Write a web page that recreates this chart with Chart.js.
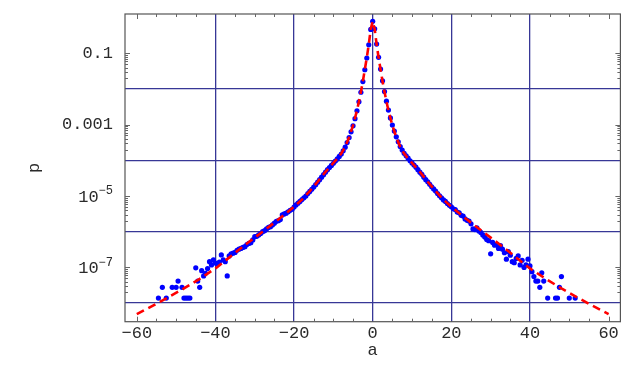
<!DOCTYPE html>
<html lang="en">
<head>
  <meta charset="UTF-8">
  <title>p(a)</title>
  <style>
    body { margin: 0; background: #fff; }
  </style>
</head>
<body>

<canvas id="myChart" width="623" height="385"></canvas>

<script src="https://cdn.jsdelivr.net/npm/chart.js"></script>

<script>
  // measured points (blue dots)
  const dataA = [
    -54.5, -53.5, -52.5, -51, -50, -49.5, -48.5, -48, -47.5, -47, -46.5, -45, -44.5, -44,
    -43.5, -43, -42.5, -42, -41.5, -41, -40.5, -40, -39.5, -39, -38.5, -38, -37.5, -37,
    -36.5, -36, -35.5, -35, -34.5, -34, -33.5, -33, -32.5, -32, -31.5, -31, -30.5, -30,
    -29.5, -29, -28.5, -28, -27.5, -27, -26.5, -26, -25.5, -25, -24.5, -24, -23.5, -23,
    -22.5, -22, -21.5, -21, -20.5, -20, -19.5, -19, -18.5, -18, -17.5, -17, -16.5, -16,
    -15.5, -15, -14.5, -14, -13.5, -13, -12.5, -12, -11.5, -11, -10.5, -10, -9.5, -9,
    -8.5, -8, -7.5, -7, -6.5, -6, -5.5, -5, -4.5, -4, -3.5, -3, -2.5, -2, -1.5, -1, -0.5,
    0,
    0.5, 1, 1.5, 2, 2.5, 3, 3.5, 4, 4.5, 5, 5.5, 6, 6.5, 7, 7.5, 8, 8.5, 9, 9.5, 10,
    10.5, 11, 11.5, 12, 12.5, 13, 13.5, 14, 14.5, 15, 15.5, 16, 16.5, 17, 17.5, 18, 18.5,
    19, 19.5, 20, 20.5, 21, 21.5, 22, 22.5, 23, 23.5, 24, 24.5, 25, 25.5, 26, 26.5, 27,
    27.5, 28, 28.5, 29, 29.5, 30, 30.5, 31, 31.5, 32, 32.5, 33, 33.5, 34, 34.5, 35, 35.5,
    36, 36.5, 37, 37.5, 38, 38.5, 39, 39.5, 40, 40.5, 41, 41.5, 42, 42.5, 43, 43.5, 44.5,
    46.5, 47, 47.5, 48, 50, 51.5
  ];
  const dataP = [
    1.38e-8, 2.76e-8, 1.38e-8, 2.76e-8, 2.76e-8, 4.14e-8, 2.76e-8, 1.38e-8, 1.38e-8, 1.38e-8, 1.38e-8, 9.7e-8, 4.14e-8, 2.76e-8,
    8.1e-8, 5.75e-8, 6.8e-8, 9.3e-8, 1.45e-7, 1.17e-7, 1.62e-7, 1.32e-7, 1.26e-7, 1.41e-7, 2.24e-7, 1.62e-7, 1.45e-7, 5.75e-8,
    2.09e-7, 2.4e-7, 2.51e-7, 2.63e-7, 3.02e-7, 3.24e-7, 3.39e-7, 3.63e-7, 3.8e-7, 4.37e-7, 4.68e-7, 4.9e-7, 5.89e-7, 7.24e-7,
    7.41e-7, 8.13e-7, 8.91e-7, 1.0e-6, 1.07e-6, 1.2e-6, 1.32e-6, 1.38e-6, 1.55e-6, 1.74e-6, 1.95e-6, 2.04e-6, 2.19e-6, 2.95e-6,
    3.16e-6, 3.31e-6, 3.63e-6, 3.98e-6, 4.27e-6, 4.9e-6, 5.62e-6, 6.31e-6, 7.08e-6, 7.94e-6, 8.91e-6, 1.0e-5, 1.17e-5, 1.35e-5,
    1.55e-5, 1.78e-5, 2.09e-5, 2.45e-5, 2.88e-5, 3.39e-5, 3.98e-5, 4.68e-5, 5.5e-5, 6.31e-5, 7.24e-5, 8.32e-5, 9.55e-5, 1.1e-4,
    1.29e-4, 1.51e-4, 1.86e-4, 2.34e-4, 3.16e-4, 4.37e-4, 6.31e-4, 9.33e-4, 1.48e-3, 2.45e-3, 4.37e-3, 8.13e-3, 0.0162, 0.0347, 0.0741, 0.174, 0.468,
    0.794,
    0.49, 0.182, 0.0776, 0.0363, 0.017, 0.00851, 0.00457, 0.00257, 0.00155, 9.77e-4, 6.61e-4, 4.57e-4, 3.31e-4, 2.45e-4, 1.95e-4, 1.58e-4, 1.35e-4, 1.15e-4, 9.77e-5, 8.51e-5,
    7.41e-5, 6.46e-5, 5.5e-5, 4.68e-5, 4.07e-5, 3.39e-5, 2.88e-5, 2.51e-5, 2.14e-5, 1.82e-5, 1.58e-5, 1.38e-5, 1.17e-5, 1.02e-5, 8.91e-6, 7.76e-6, 7.08e-6,
    6.17e-6, 5.5e-6, 5.01e-6, 4.37e-6, 4.17e-6, 3.55e-6, 3.39e-6, 2.88e-6, 2.75e-6, 2.29e-6, 2.09e-6, 2.0e-6, 1.66e-6, 1.2e-6, 1.15e-6, 1.29e-6, 1.05e-6,
    9.55e-7, 8.13e-7, 7.08e-7, 6.03e-7, 5.62e-7, 2.4e-7, 5.01e-7, 4.17e-7, 4.37e-7, 3.39e-7, 4.07e-7, 3.24e-7, 2.57e-7, 1.7e-7, 2.75e-7, 2.19e-7, 1.45e-7,
    1.35e-7, 1.78e-7, 2.09e-7, 1.17e-7, 1.58e-7, 1.0e-7, 1.17e-7, 1.7e-7, 1.1e-7, 7.59e-8, 5.52e-8, 4.14e-8, 4.14e-8, 2.76e-8, 7.08e-8, 4.14e-8, 1.38e-8,
    1.38e-8, 1.38e-8, 2.76e-8, 5.52e-8, 1.38e-8, 1.38e-8
  ];

  // fitted curve (red dashed)
  const fitA = [-60, -56, -52, -48, -44, -40, -36, -32, -28, -24, -20, -18, -16, -14, -12, -10, -9, -8, -7, -6, -5,
                -4, -3.5, -3, -2.5, -2, -1.5, -1, -0.5, 0, 0.5, 1, 1.5, 2, 2.5, 3, 3.5, 4,
                5, 6, 7, 8, 9, 10, 12, 14, 16, 18, 20, 24, 28, 32, 36, 40, 44, 48, 52, 56, 60];
  const fitP = [4.9e-9, 8.32e-9, 1.45e-8, 2.57e-8, 4.79e-8, 9.33e-8, 2.09e-7, 4.68e-7, 1.0e-6, 2.19e-6, 5.01e-6, 7.94e-6, 1.38e-5, 2.51e-5, 4.79e-5, 8.51e-5, 1.12e-4, 1.55e-4, 2.4e-4, 4.47e-4, 9.55e-4,
                0.00251, 0.00447, 0.00832, 0.0166, 0.0355, 0.0759, 0.178, 0.479, 0.794, 0.479, 0.178, 0.0759, 0.0355, 0.0166, 0.00832, 0.00447, 0.00251,
                9.55e-4, 4.47e-4, 2.4e-4, 1.55e-4, 1.12e-4, 8.51e-5, 4.79e-5, 2.51e-5, 1.38e-5, 7.94e-6, 5.01e-6, 2.19e-6, 1.0e-6, 4.68e-7, 2.09e-7, 9.33e-8, 4.79e-8, 2.57e-8, 1.45e-8, 8.32e-9, 4.9e-9];

  // axes
  const xTickValues = [-60, -40, -20, 0, 20, 40, 60];
  const xMinorValues = [-55, -50, -45, -35, -30, -25, -15, -10, -5, 5, 10, 15, 25, 30, 35, 45, 50, 55];
  const yGridValues = [1e-8, 1e-6, 1e-4, 1e-2];
  const yLabelValues = [0.1, 0.001, 1e-5, 1e-7];
  const yLabelBase = ['0.1', '0.001', '10', '10'];
  const yLabelExp = ['', '', '\u22125', '\u22127'];

  const FONT = 'Liberation Mono';
  const textColor = '#2a2a2a';
  const gridColor = 'rgb(55,55,150)';

  const fmt = v => (v < 0 ? '\u2212' + (-v) : String(v));

  const framePlugin = {
    id: 'frame',
    afterDraw(chart) {
      const { ctx, chartArea: a, scales: { x, y } } = chart;
      ctx.save();
      ctx.strokeStyle = '#555';
      ctx.lineWidth = 1.2;
      ctx.strokeRect(a.left, a.top, a.right - a.left, a.bottom - a.top);

      // tick marks, inside the frame
      ctx.lineWidth = 1;
      ctx.strokeStyle = '#666';
      const hTick = (px, len) => {
        ctx.beginPath();
        ctx.moveTo(px, a.bottom); ctx.lineTo(px, a.bottom - len);
        ctx.moveTo(px, a.top); ctx.lineTo(px, a.top + len);
        ctx.stroke();
      };
      const vTick = (py, len) => {
        ctx.beginPath();
        ctx.moveTo(a.left, py); ctx.lineTo(a.left + len, py);
        ctx.moveTo(a.right, py); ctx.lineTo(a.right - len, py);
        ctx.stroke();
      };
      xMinorValues.forEach(v => hTick(Math.round(x.getPixelForValue(v)) + 0.5, 3));
      [-60, 60].forEach(v => hTick(Math.round(x.getPixelForValue(v)) + 0.5, 5));
      yLabelValues.forEach(v => {
        vTick(Math.round(y.getPixelForValue(v)) + 0.5, 5);
        for (let k = 2; k <= 9; k++) {
          vTick(Math.round(y.getPixelForValue(v * k / 10)) + 0.5, 3);
        }
      });

      // y tick labels with exponents
      ctx.fillStyle = textColor;
      ctx.textBaseline = 'middle';
      ctx.textAlign = 'left';
      const right = a.left - 12;
      yLabelValues.forEach((v, i) => {
        const py = y.getPixelForValue(v);
        ctx.font = '17px "' + FONT + '"';
        const bw = ctx.measureText(yLabelBase[i]).width;
        let ew = 0;
        if (yLabelExp[i]) {
          ctx.font = '12px "' + FONT + '"';
          ew = ctx.measureText(yLabelExp[i]).width;
          ctx.fillText(yLabelExp[i], right - ew, py - 5);
          ctx.font = '17px "' + FONT + '"';
          ctx.fillText(yLabelBase[i], right - ew - bw, py + 1.5);
        } else {
          ctx.fillText(yLabelBase[i], right - bw, py);
        }
      });
      ctx.restore();
    }
  };

  const ctx = document.getElementById('myChart').getContext('2d');
  const myChart = new Chart(ctx, {
    type: 'scatter',
    data: {
      datasets: [{
        type: 'line',
        label: 'fit',
        data: fitA.map((a, i) => ({ x: a, y: fitP[i] })),
        borderColor: '#ff0000',
        borderWidth: 2.6,
        borderDash: [8, 5],
        pointRadius: 0,
        fill: false,
        tension: 0
      }, {
        label: 'data',
        data: dataA.map((a, i) => ({ x: a, y: dataP[i] })),
        backgroundColor: '#0000ff',
        borderWidth: 0,
        pointRadius: 2.6,
        pointHoverRadius: 2.6
      }]
    },
    options: {
      responsive: false,
      animation: false,
      devicePixelRatio: 1,
      layout: { padding: { top: 14, right: 1, left: 0, bottom: 0 } },
      plugins: { legend: { display: false }, tooltip: { enabled: false } },
      scales: {
        x: {
          type: 'linear',
          min: -63,
          max: 63,
          afterBuildTicks: s => { s.ticks = xTickValues.map(v => ({ value: v })); },
          afterFit: s => { s.height = 63.3; },
          ticks: {
            callback: v => fmt(v),
            font: { family: FONT, size: 17 },
            color: textColor,
            padding: 2,
            maxRotation: 0,
            autoSkip: false
          },
          grid: {
            color: c => (c.tick && Math.abs(c.tick.value) === 60 ? 'rgba(0,0,0,0)' : gridColor),
            lineWidth: 1.3,
            drawTicks: false
          },
          border: { display: false },
          title: {
            display: true, text: 'a', color: textColor,
            font: { family: FONT, size: 17 },
            padding: { top: 0, bottom: 24 }
          }
        },
        y: {
          type: 'logarithmic',
          min: 3e-9,
          max: 1.27,
          afterBuildTicks: s => { s.ticks = yGridValues.map(v => ({ value: v })); },
          afterFit: s => { s.width = 125; },
          ticks: { display: false },
          grid: { color: gridColor, lineWidth: 1.3, drawTicks: false },
          border: { display: false },
          title: {
            display: true, text: 'p', color: textColor,
            font: { family: FONT, size: 17 },
            padding: { top: 24, bottom: 0 }
          }
        }
      }
    },
    plugins: [framePlugin]
  });
</script>
</body>
</html>
